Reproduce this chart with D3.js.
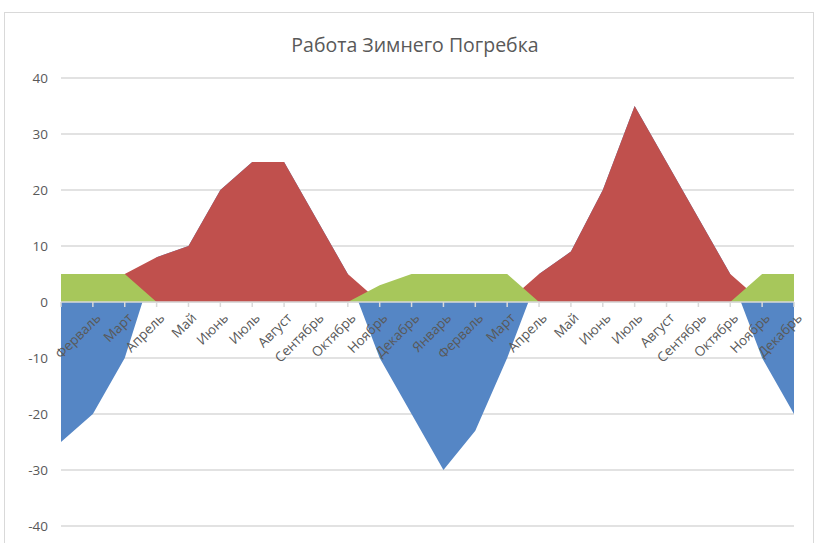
<!DOCTYPE html>
<html lang="ru">
<head>
<meta charset="UTF-8">
<title>Работа Зимнего Погребка</title>
<script src="https://d3js.org/d3.v7.min.js"></script>
<style>
    body { margin: 0; background: #fff; }
    text { font-family: "Open Sans", "Noto Sans", sans-serif; fill: #595959; }
</style>
</head>
<body>
<script>
// category labels (first category has no label in the original)
var months = ["", "Ферваль", "Март", "Апрель", "Май", "Июнь", "Июль", "Август", "Сентябрь", "Октябрь",
    "Ноябрь", "Декабрь", "Январь", "Ферваль", "Март", "Апрель", "Май", "Июнь", "Июль", "Август",
    "Сентябрь", "Октябрь", "Ноябрь", "Декабрь"];

// outside temperature (blue)
var outside = [-25, -20, -10, 8, 10, 20, 25, 25, 15, 5, -10, -20, -30, -23, -10, 5, 9, 20, 35, 25, 15, 5, -10, -20];
// warm period (red)
var warm = [0, 0, 5, 8, 10, 20, 25, 25, 15, 5, 0, 0, 0, 0, 0, 5, 9, 20, 35, 25, 15, 5, 0, 0];
// cellar (green)
var cellar = [5, 5, 5, 0, 0, 0, 0, 0, 0, 0, 3, 5, 5, 5, 5, 0, 0, 0, 0, 0, 0, 0, 5, 5];

var yTicks = [-40, -30, -20, -10, 0, 10, 20, 30, 40];

var width = 819, height = 543;
var margin = {top: 78, bottom: 17, left: 61, right: 25};

var svg = d3.select("body").append("svg")
    .attr("width", width)
    .attr("height", height);

// chart border
svg.append("rect")
    .attr("x", 4.5).attr("y", 12.5)
    .attr("width", 809).attr("height", 540)
    .attr("fill", "none")
    .attr("stroke", "#d9d9d9");

// title
svg.append("text")
    .attr("x", 415).attr("y", 52)
    .attr("text-anchor", "middle")
    .style("font-size", "19.5px")
    .text("Работа Зимнего Погребка");

var x = d3.scalePoint()
    .domain(d3.range(months.length))
    .range([margin.left, width - margin.right]);

var y = d3.scaleLinear()
    .domain([-40, 40])
    .range([height - margin.bottom, margin.top]);

// gridlines
svg.append("g").selectAll("line")
    .data(yTicks)
    .enter().append("line")
    .attr("x1", margin.left).attr("x2", width - margin.right)
    .attr("y1", function(d) { return y(d); })
    .attr("y2", function(d) { return y(d); })
    .attr("stroke", "#d9d9d9")
    .attr("stroke-width", 1.5);

// y labels
svg.append("g").selectAll("text")
    .data(yTicks)
    .enter().append("text")
    .attr("x", 48)
    .attr("y", function(d) { return y(d); })
    .attr("dy", "0.35em")
    .attr("text-anchor", "end")
    .style("font-size", "13.5px")
    .text(function(d) { return d; });

var area = d3.area()
    .x(function(d, i) { return x(i); })
    .y0(y(0))
    .y1(function(d) { return y(d); });

var series = [
    {values: outside, color: "#5586c5"},
    {values: warm, color: "#c0504d"},
    {values: cellar, color: "#a7c75b"}
];

svg.append("g").selectAll("path")
    .data(series)
    .enter().append("path")
    .attr("d", function(s) { return area(s.values); })
    .attr("fill", function(s) { return s.color; });

// category axis
var xAxis = svg.append("g")
    .attr("transform", "translate(0," + y(0) + ")");

xAxis.append("line")
    .attr("x1", margin.left).attr("x2", width - margin.right)
    .attr("stroke", "#d9d9d9")
    .attr("stroke-width", 1.5);

xAxis.selectAll(".tick")
    .data(months)
    .enter().append("line")
    .attr("class", "tick")
    .attr("x1", function(d, i) { return x(i); })
    .attr("x2", function(d, i) { return x(i); })
    .attr("y1", 0).attr("y2", 5)
    .attr("stroke", "#d9d9d9")
    .attr("stroke-width", 1.5);

xAxis.selectAll(".lbl")
    .data(months)
    .enter().append("text")
    .attr("class", "lbl")
    .attr("text-anchor", "end")
    .attr("transform", function(d, i) {
        return "translate(" + (x(i) + 2) + ",10) rotate(-45)";
    })
    .attr("dy", "0.71em")
    .style("font-size", "13.5px")
    .text(function(d) { return d; });
</script>
</body>
</html>
